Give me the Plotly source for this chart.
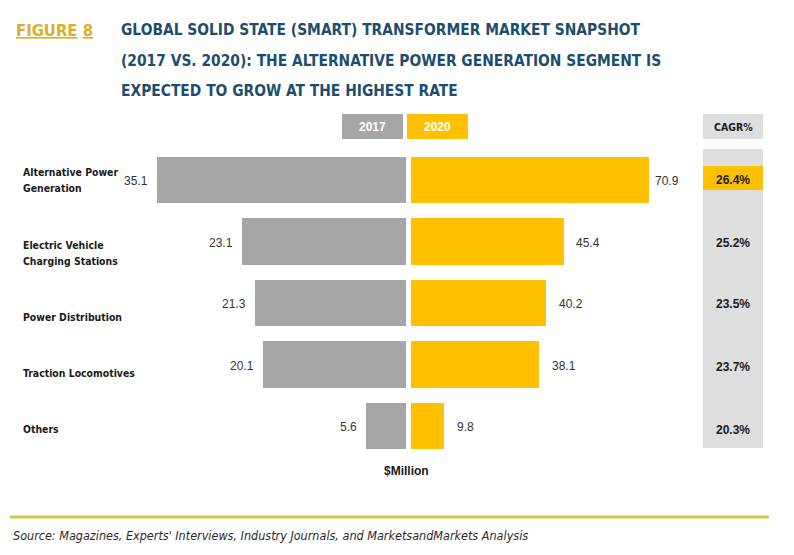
import plotly.graph_objects as go

# ---------------- data ----------------
categories = ["Alternative Power Generation", "Electric Vehicle Charging Stations",
              "Power Distribution", "Traction Locomotives", "Others"]
category_labels = ["Alternative Power<br>Generation", "Electric Vehicle<br>Charging Stations",
                   "Power Distribution", "Traction Locomotives", "Others"]
values_2017 = [35.1, 23.1, 21.3, 20.1, 5.6]
values_2020 = [70.9, 45.4, 40.2, 38.1, 9.8]
cagr = [26.4, 25.2, 23.5, 23.7, 20.3]
year_labels = ["2017", "2020"]

# ---------------- style ----------------
W, H = 794, 555
GRAY = "#a6a6a6"
YELLOW = "#ffc000"
LIGHT = "#dedede"
TITLE_COLOR = "#1d4e6d"
GOLD = "#dcae2b"
NARROW = "DejaVu Sans Condensed, Liberation Sans Narrow, Arial Narrow, sans-serif"
SANS = "Liberation Sans, Arial, sans-serif"

def px_x(p):
    return p / W

def px_y(p):
    return 1 - p / H

# vertical layout of rows (pixels)
row_top, row_step = 149.25, 61.5
y_domain = [px_y(row_top + 5 * row_step), px_y(row_top)]

left_px = (140, 406)
right_px = (411, 700)
left_scale = 7.09   # px per unit
right_scale = 3.36

fig = go.Figure()
fig.add_trace(go.Bar(y=categories, x=values_2017, orientation="h", xaxis="x", yaxis="y",
                     marker=dict(color=GRAY, line=dict(width=0)), width=0.756,
                     name=year_labels[0], hoverinfo="x+y"))
fig.add_trace(go.Bar(y=categories, x=values_2020, orientation="h", xaxis="x2", yaxis="y",
                     marker=dict(color=YELLOW, line=dict(width=0)), width=0.756,
                     name=year_labels[1], hoverinfo="x+y"))

annotations = []
shapes = []

def ann(**kw):
    kw.setdefault("showarrow", False)
    kw.setdefault("xanchor", "center")
    kw.setdefault("yanchor", "middle")
    annotations.append(kw)

# value labels
for i, (c, v) in enumerate(zip(categories, values_2017)):
    ann(x=v, y=c, xref="x", yref="y", text=f"{v:.1f}", xanchor="right", xshift=-7, yshift=-1,
        font=dict(family=SANS, size=12, color="#333333"))
right_gaps = [4, 10, 11, 11, 11]
for i, (c, v) in enumerate(zip(categories, values_2020)):
    ann(x=v, y=c, xref="x2", yref="y", text=f"{v:.1f}", xanchor="left",
        xshift=right_gaps[i], yshift=-1,
        font=dict(family=SANS, size=12, color="#333333"))

# category labels (last line offset below row centre, line spacing in px)
last_line_shift = [7.7, 19.2, 13.7, 8.2, 3.0]
line_gap = 15.7
for i, (c, lab) in enumerate(zip(categories, category_labels)):
    lines = lab.split("<br>")
    n = len(lines)
    for j, line in enumerate(lines):
        down = last_line_shift[i] - (n - 1 - j) * line_gap
        ann(x=px_x(21), y=c, xref="paper", yref="y", text=f"<b>{line}</b>",
            xanchor="left", align="left", yshift=-down,
            font=dict(family=NARROW, size=10.4, color="#1a1a1a"))

# header boxes
hdr_y0, hdr_y1 = 114, 139
for (x0, x1, col, txt, tcol, fam, fs) in [
        (342, 403, GRAY, year_labels[0], "white", SANS, 12),
        (407, 468, YELLOW, year_labels[1], "white", SANS, 12),
        (703, 763, LIGHT, "CAGR%", "#1a1a1a", NARROW, 10.5)]:
    shapes.append(dict(type="rect", xref="paper", yref="paper",
                       x0=px_x(x0), x1=px_x(x1), y0=px_y(hdr_y1), y1=px_y(hdr_y0),
                       fillcolor=col, line=dict(width=0), layer="below"))
    ann(x=px_x((x0 + x1) / 2), y=px_y((hdr_y0 + hdr_y1) / 2), xref="paper", yref="paper",
        text=f"<b>{txt}</b>", font=dict(family=fam, size=fs, color=tcol))

# CAGR column
shapes.append(dict(type="rect", xref="paper", yref="paper",
                   x0=px_x(703), x1=px_x(763), y0=px_y(448), y1=px_y(149),
                   fillcolor=LIGHT, line=dict(width=0), layer="below"))
top_idx = max(range(len(cagr)), key=lambda k: cagr[k])
cy = row_top + (top_idx + 0.5) * row_step
shapes.append(dict(type="rect", xref="paper", yref="paper",
                   x0=px_x(703), x1=px_x(763), y0=px_y(cy + 10), y1=px_y(cy - 14),
                   fillcolor=YELLOW, line=dict(width=0), layer="below"))
cagr_shift = [0, -1, -1, -2.5, -4]
for i, (c, g) in enumerate(zip(categories, cagr)):
    ann(x=px_x(733), y=c, xref="paper", yref="y", text=f"<b>{g:.1f}%</b>",
        yshift=cagr_shift[i], font=dict(family=SANS, size=12, color="#1a1a1a"))

# unit label
ann(x=px_x(407), y=px_y(471), xref="paper", yref="paper", text="<b>$Million</b>",
    font=dict(family=SANS, size=12, color="#1a1a1a"))

# title
ann(x=px_x(14), y=px_y(31), xref="paper", yref="paper", xanchor="left",
    text="<b><u>FIGURE</u> <u>8</u></b>", font=dict(family=NARROW, size=16.5, color=GOLD))
title_lines = ["GLOBAL SOLID STATE (SMART) TRANSFORMER MARKET SNAPSHOT",
               "(2017 VS. 2020): THE ALTERNATIVE POWER GENERATION SEGMENT IS",
               "EXPECTED TO GROW AT THE HIGHEST RATE"]
for k, line in enumerate(title_lines):
    ann(x=px_x(119), y=px_y(30 + 30.5 * k), xref="paper", yref="paper", xanchor="left",
        text=f"<b>{line}</b>", font=dict(family=NARROW, size=15.4, color=TITLE_COLOR))

# footer
shapes.append(dict(type="line", xref="paper", yref="paper",
                   x0=px_x(10), x1=px_x(769), y0=px_y(517), y1=px_y(517),
                   line=dict(color="#d6c34a", width=3)))
ann(x=px_x(11), y=px_y(535), xref="paper", yref="paper", xanchor="left",
    text="<i>Source: Magazines, Experts' Interviews, Industry Journals, and MarketsandMarkets Analysis</i>",
    font=dict(family=NARROW, size=12.5, color="#2a2a2a"))

axis_hidden = dict(showgrid=False, zeroline=False, showticklabels=False, showline=False, ticks="")
fig.update_layout(
    width=W, height=H, margin=dict(l=0, r=0, t=0, b=0),
    paper_bgcolor="white", plot_bgcolor="white", showlegend=False,
    xaxis=dict(domain=[px_x(left_px[0]), px_x(left_px[1])],
               range=[(left_px[1] - left_px[0]) / left_scale, 0], anchor="y", **axis_hidden),
    xaxis2=dict(domain=[px_x(right_px[0]), px_x(right_px[1])],
                range=[0, (right_px[1] - right_px[0]) / right_scale], anchor="y", **axis_hidden),
    yaxis=dict(domain=y_domain, range=[4.5, -0.5], type="category", **axis_hidden),
    annotations=annotations, shapes=shapes, bargap=0,
)

fig.write_html("out.html")
